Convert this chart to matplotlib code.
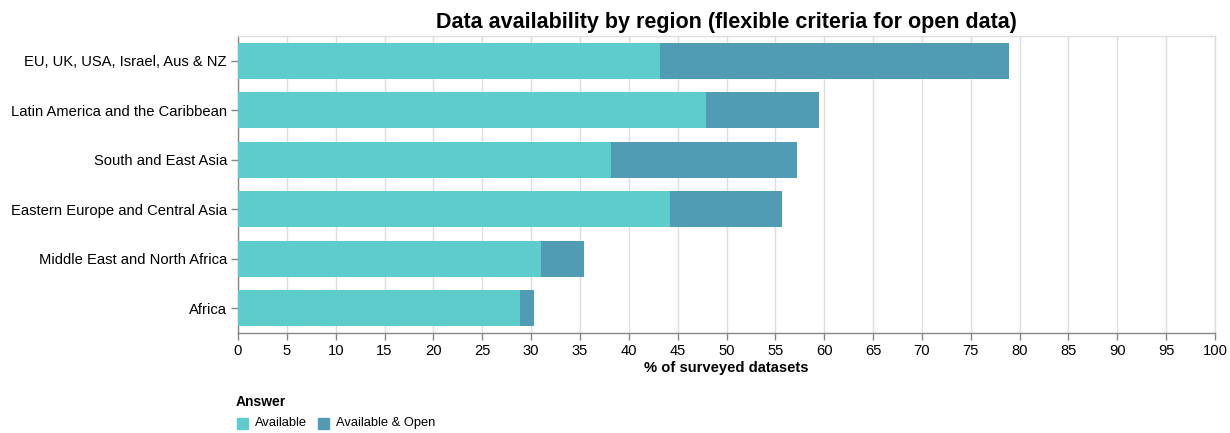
import matplotlib
matplotlib.use("Agg")
import matplotlib.pyplot as plt
import numpy as np

plt.rcParams['font.family'] = ['Liberation Sans', 'DejaVu Sans']

regions = ["EU, UK, USA, Israel, Aus & NZ", "Latin America and the Caribbean",
           "South and East Asia", "Eastern Europe and Central Asia",
           "Middle East and North Africa", "Africa"]
available = [43.2, 47.9, 38.2, 44.2, 31.0, 28.9]
available_open_total = [78.9, 59.5, 57.2, 55.7, 35.4, 30.3]
open_part = [t - a for t, a in zip(available_open_total, available)]
series_names = ["Available", "Available & Open"]
colors = ["#5ecbcc", "#4f9cb4"]
xticks = list(range(0, 101, 5))

W, H = 1230, 433
fig = plt.figure(figsize=(W / 100, H / 100), dpi=100)
left, right, top, bottom = 238, 1215, 36, 333
ax = fig.add_axes([left / W, 1 - bottom / H, (right - left) / W, (bottom - top) / H])

y = np.arange(len(regions))
h = 0.73
ax.barh(y, available, height=h, color=colors[0], label=series_names[0], zorder=3)
ax.barh(y, open_part, left=available, height=h, color=colors[1], label=series_names[1], zorder=3)

ax.set_xlim(0, 100)
ax.set_ylim(len(regions) - 0.5, -0.5)
ax.set_xticks(xticks)
ax.set_xticklabels([str(t) for t in xticks], fontsize=10.6)
ax.set_yticks(y)
ax.set_yticklabels(regions, fontsize=10.6)
ax.grid(axis='x', color='#dddddd', linewidth=1, zorder=0)
ax.grid(axis='y', visible=False)
for s in ['top', 'right']:
    ax.spines[s].set_color('#dddddd')
    ax.spines[s].set_linewidth(1)
for s in ['left', 'bottom']:
    ax.spines[s].set_color('#888888')
    ax.spines[s].set_linewidth(1)
ax.tick_params(axis='both', color='#888888', length=5, width=1, labelcolor='black', pad=3)
ax.set_xlabel("% of surveyed datasets", fontsize=10.6, fontweight='bold', labelpad=2)
ax.set_title("Data availability by region (flexible criteria for open data)",
             fontsize=15.5, fontweight='bold', pad=6)

# legend
fig.text(236 / W, 1 - 402 / H, "Answer", fontsize=10, fontweight='bold', va='center', ha='left')
sw = 11
for i, (name, c, x0) in enumerate(zip(series_names, colors, [237, 318])):
    fig.patches.append(plt.Rectangle((x0 / W, 1 - (423 + sw / 2) / H), sw / W, sw / H,
                                     transform=fig.transFigure, color=c, figure=fig))
    fig.text((x0 + 18) / W, 1 - 423 / H, name, fontsize=9.3, va='center', ha='left')

fig.savefig("out.png", dpi=100)
